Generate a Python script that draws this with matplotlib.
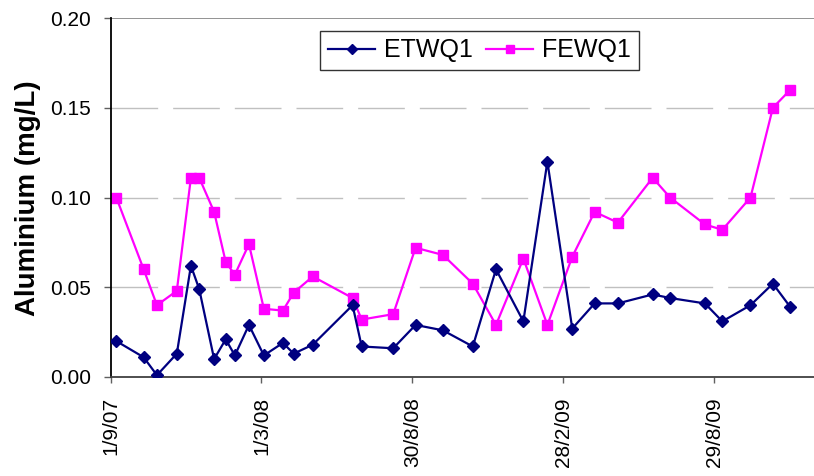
import matplotlib
matplotlib.use("Agg")
import matplotlib.pyplot as plt
import matplotlib.dates as mdates
import pandas as pd

plt.rcParams['font.family'] = ['Liberation Sans', 'DejaVu Sans']
plt.rcParams['lines.scale_dashes'] = False

# ---- data ----
dates = ["2007-09-08", "2007-10-11", "2007-10-27", "2007-11-20", "2007-12-07",
         "2007-12-17", "2008-01-04", "2008-01-18", "2008-01-29", "2008-02-15",
         "2008-03-04", "2008-03-27", "2008-04-09", "2008-05-02", "2008-06-19",
         "2008-06-30", "2008-08-07", "2008-09-03", "2008-10-06", "2008-11-11",
         "2008-12-09", "2009-01-11", "2009-02-09", "2009-03-11", "2009-04-07",
         "2009-05-05", "2009-06-16", "2009-07-07", "2009-08-18", "2009-09-08",
         "2009-10-12", "2009-11-08", "2009-11-29"]
etwq1 = [0.020, 0.011, 0.001, 0.013, 0.062, 0.049, 0.010, 0.021, 0.012, 0.029,
         0.012, 0.019, 0.013, 0.018, 0.040, 0.017, 0.016, 0.029, 0.026, 0.017,
         0.060, 0.031, 0.120, 0.027, 0.041, 0.041, 0.046, 0.044, 0.041, 0.031,
         0.040, 0.052, 0.039]
fewq1 = [0.100, 0.060, 0.040, 0.048, 0.111, 0.111, 0.092, 0.064, 0.057, 0.074,
         0.038, 0.037, 0.047, 0.056, 0.044, 0.032, 0.035, 0.072, 0.068, 0.052,
         0.029, 0.066, 0.029, 0.067, 0.092, 0.086, 0.111, 0.100, 0.085, 0.082,
         0.100, 0.150, 0.160]
tick_dates = ["2007-09-01", "2008-03-01", "2008-08-30", "2009-02-28", "2009-08-29"]
tick_labels = ["1/9/07", "1/3/08", "30/8/08", "28/2/09", "29/8/09"]
y_ticks = [0.00, 0.05, 0.10, 0.15, 0.20]
y_labels = ["0.00", "0.05", "0.10", "0.15", "0.20"]

x = pd.to_datetime(dates)
W, H = 814, 476
fig = plt.figure(figsize=(W / 100, H / 100), dpi=100)
left, bottom, top = 110.5, 377, 18
ax = fig.add_axes([left / W, 1 - bottom / H, 1 - left / W, (bottom - top) / H])

start = pd.Timestamp("2007-09-01")
end = start + pd.Timedelta(days=848.6)
ax.set_xlim(start, end)
ax.set_ylim(0, 0.20)

for yv in [0.05, 0.10, 0.15]:
    ax.axhline(yv, color='#c0c0c0', lw=1.0, dashes=(33.6, 10.8), zorder=0)
ax.axhline(0.20, color='#808080', lw=1.2, zorder=0)

ax.plot(x, etwq1, color='#000080', lw=1.6, marker='D', ms=6.2,
        markeredgecolor='#000080', markerfacecolor='#000080', label='ETWQ1', zorder=3)
ax.plot(x, fewq1, color='#ff00ff', lw=1.6, marker='s', ms=7.6,
        markeredgecolor='#ff00ff', markerfacecolor='#ff00ff', label='FEWQ1', zorder=2)

ax.set_xticks(pd.to_datetime(tick_dates))
ax.set_xticklabels(tick_labels, rotation=90, fontsize=15)
ax.set_yticks(y_ticks)
ax.set_yticklabels(y_labels, fontsize=15)
ax.tick_params(axis='x', direction='out', length=4.5, width=1, color='#606060', pad=10)
ax.tick_params(axis='y', direction='out', length=4.8, width=1, color='#606060', pad=9)

for s in ['top', 'right']:
    ax.spines[s].set_visible(False)
ax.spines['left'].set_color('black')
ax.spines['left'].set_linewidth(1.3)
ax.spines['bottom'].set_color('#404040')
ax.spines['bottom'].set_linewidth(1.3)

fig.text(28.5 / W, 1 - 198.5 / H, "Aluminium (mg/L)", rotation=90,
         ha='center', va='center', fontsize=20, fontweight='bold')

leg = ax.legend(loc='center', bbox_to_anchor=(479.5 / W, 1 - 50.5 / H),
                bbox_transform=fig.transFigure, ncol=2, fontsize=18,
                frameon=True, fancybox=False, shadow=False, handlelength=1.9,
                handletextpad=0.36, columnspacing=0.5, borderpad=0.3,
                markerscale=0.8)
leg.get_frame().set_edgecolor('black')
leg.get_frame().set_linewidth(1.0)

fig.savefig("out.png", dpi=100)
